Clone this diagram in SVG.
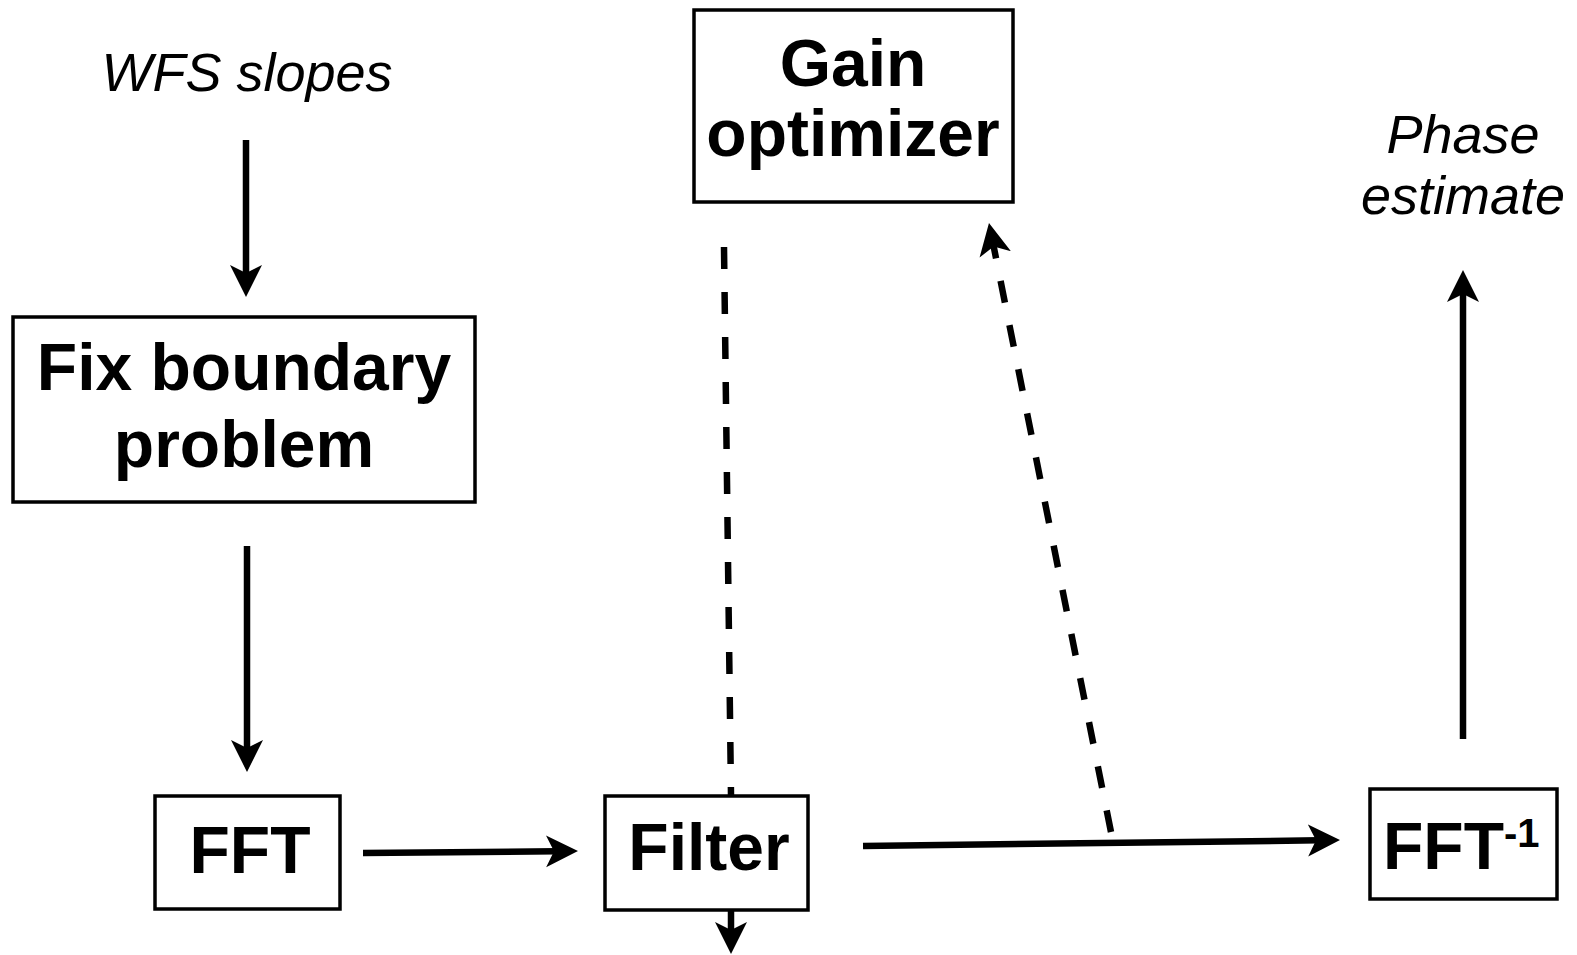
<svg xmlns="http://www.w3.org/2000/svg" width="1577" height="955" viewBox="0 0 1577 955">
<style>
.box{fill:#fff;stroke:#000;stroke-width:3.5}
.lbl{font-family:"Liberation Sans",Arial,sans-serif;font-weight:bold;font-size:66px;text-anchor:middle;fill:#000}
.it{font-family:"Liberation Sans",Arial,sans-serif;font-style:italic;font-size:54px;text-anchor:middle;fill:#000}
.ln{fill:none;stroke:#000;stroke-width:6.5}
.dash{stroke-dasharray:22 23}
</style>
<defs>
<marker id="ah" viewBox="0 -17 34 34" refX="11" refY="0" markerWidth="34" markerHeight="34" markerUnits="userSpaceOnUse" orient="auto">
<path d="M32,0 L0,-16 L8,0 L0,16 Z" fill="#000"/>
</marker>
</defs>
<rect width="1577" height="955" fill="#fff"/>
<g id="connectors">
<line class="ln" x1="246" y1="140" x2="246" y2="276" marker-end="url(#ah)"/>
<line class="ln" x1="247" y1="546" x2="247" y2="751" marker-end="url(#ah)"/>
<line class="ln" x1="363" y1="853" x2="557" y2="851.2" marker-end="url(#ah)"/>
<line class="ln" x1="863" y1="846" x2="1319" y2="840.3" marker-end="url(#ah)"/>
<line class="ln dash" x1="1111" y1="832" x2="993.1" y2="243.6" marker-end="url(#ah)"/>
<line class="ln" x1="1463" y1="739" x2="1463" y2="291" marker-end="url(#ah)"/>
<line class="ln dash" x1="724" y1="247" x2="731" y2="795"/>
<line class="ln" x1="731" y1="910" x2="731" y2="933" marker-end="url(#ah)"/>
</g>
<g id="wfs-slopes">
<text class="it" x="247" y="91">WFS slopes</text>
</g>
<g id="fix-boundary">
<rect class="box" x="13" y="317" width="462" height="185"/>
<text class="lbl" x="244" y="390">Fix boundary</text>
<text class="lbl" x="244" y="467">problem</text>
</g>
<g id="fft">
<rect class="box" x="155" y="796" width="185" height="113"/>
<text class="lbl" x="250" y="873">FFT</text>
</g>
<g id="filter">
<rect class="box" x="605" y="796" width="203" height="114"/>
<text class="lbl" x="709" y="870">Filter</text>
</g>
<g id="gain-optimizer">
<rect class="box" x="694" y="10" width="319" height="192"/>
<text class="lbl" x="853" y="86">Gain</text>
<text class="lbl" x="853" y="156">optimizer</text>
</g>
<g id="fft-inverse">
<rect class="box" x="1370" y="789" width="187" height="110"/>
<text class="lbl" x="1383" y="869" style="font-size:66px;text-anchor:start"><tspan>FFT</tspan><tspan dy="-22" style="font-size:40px">-1</tspan></text>
</g>
<g id="phase-estimate">
<text class="it" x="1463" y="153">Phase</text>
<text class="it" x="1463" y="214">estimate</text>
</g>
</svg>
